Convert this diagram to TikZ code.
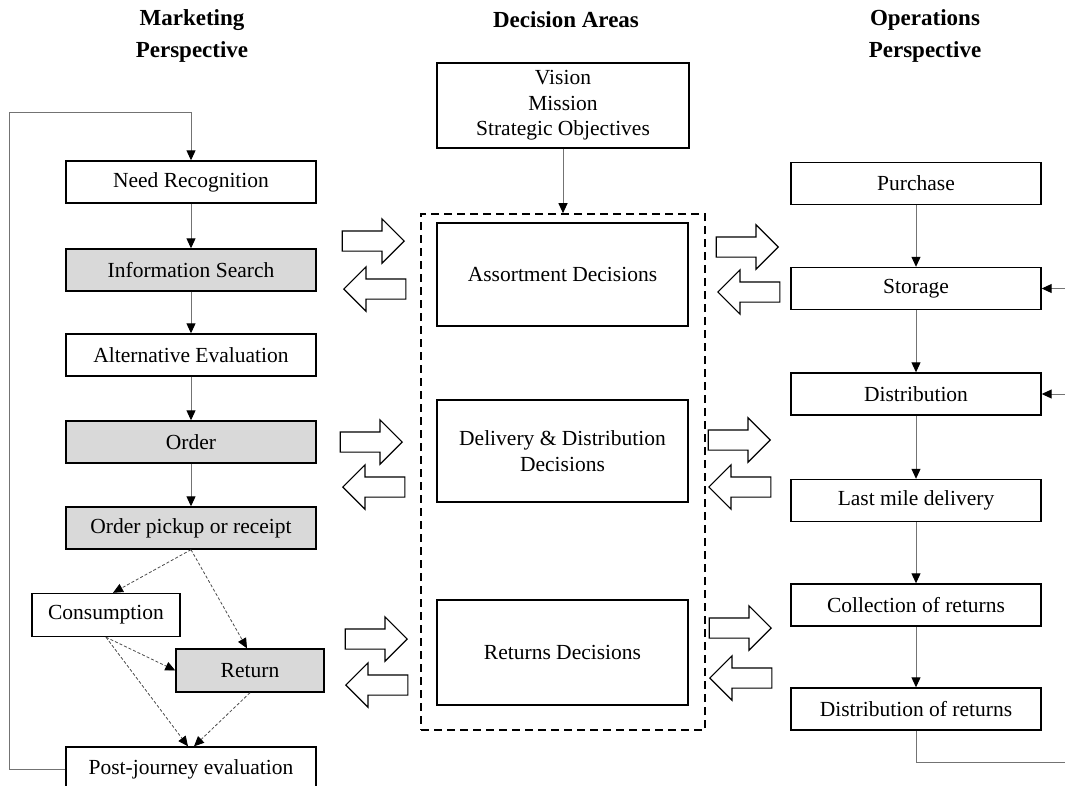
\documentclass[tikz,border=0pt]{standalone}
\usepackage{fontspec}
\setmainfont{Liberation Serif}
\usetikzlibrary{arrows.meta,shapes.arrows,calc}

\tikzset{
  box/.style={draw=black, line width=1.4pt, fill=white, inner sep=2pt,
    minimum width=250pt, minimum height=42pt,
    font=\fontsize{21.5}{25.5}\selectfont, align=center},
  shaded/.style={box, fill=black!15},
  smallbox/.style={box, minimum width=148pt, minimum height=43pt},
  decbox/.style={box, minimum width=251pt},
  areabox/.style={draw=black, line width=1.6pt, dash pattern=on 8pt off 5pt,
    minimum width=284pt, minimum height=516pt, inner sep=0pt},
  header/.style={font=\bfseries\fontsize{23}{32}\selectfont, align=center},
  tip/.style={-{Triangle[length=10pt,width=9pt,black]}},
  conn/.style={tip, draw=black!55, line width=1pt},
  line/.style={draw=black!55, line width=1pt},
  dconn/.style={-{Triangle[length=10pt,width=9pt,black]}, draw=black!70,
    line width=0.8pt, dash pattern=on 3pt off 2pt},
  barrow/.style={single arrow, draw=black, line width=1.2pt, fill=white,
    minimum height=62pt, inner xsep=0pt, inner ysep=9.5pt,
    single arrow head extend=12pt, anchor=tip},
  barrowl/.style={barrow, shape border rotate=180},
}

\begin{document}
\begin{tikzpicture}[x=1pt,y=-1pt]
\useasboundingbox (0,0) rectangle (1065,785);
\clip (0,0) rectangle (1065,785);

% column headings
\node[header] (hm) at (192,36) {Marketing\\Perspective};
\node[header] (hd) at (566,20) {Decision Areas};
\node[header] (ho) at (925,36) {Operations\\Perspective};

% marketing perspective: customer journey
\node[box]    (need)   at (191,182) {Need Recognition};
\node[shaded] (info)   at (191,270) {Information Search};
\node[box]    (alt)    at (191,355) {Alternative Evaluation};
\node[shaded] (order)  at (191,442) {Order};
\node[shaded] (pickup) at (191,528) {Order pickup or receipt};
\node[smallbox] (cons) at (106,615) {Consumption};
\node[smallbox, fill=black!15] (ret) at (250,670.5) {Return};
\node[box, minimum height=44pt] (post) at (191,769) {Post-journey evaluation};

\draw[conn] (need) -- (info);
\draw[conn] (info) -- (alt);
\draw[conn] (alt) -- (order);
\draw[conn] (order) -- (pickup);

\draw[dconn] (pickup.south) -- ([xshift=7pt]cons.north);
\draw[dconn] (pickup.south) -- ([xshift=-3pt]ret.north);
\draw[dconn] (cons.south) -- (ret.west);
\draw[dconn] (cons.south) -- ([xshift=-3pt]post.north);
\draw[dconn] (ret.south) -- ([xshift=3pt]post.north);

% feedback loop from evaluation back to need recognition
\coordinate (fbA) at (9,769);
\coordinate (fbB) at (9,112);
\coordinate (fbC) at (191,112);
\draw[conn] (post.west) -- (fbA) -- (fbB) -- (fbC) -- (need.north);

% decision areas
\node[box, minimum width=252pt, minimum height=85pt] (vision) at (563,105.5)
  {Vision\\Mission\\Strategic Objectives};
\node[areabox] (area) at (563,472) {};
\draw[conn] (vision) -- (area.north);

\node[decbox, minimum height=103pt] (assort) at (562.5,274.5) {Assortment Decisions};
\node[decbox, minimum height=102pt] (deliv)  at (562.5,451) {Delivery \& Distribution\\Decisions};
\node[decbox, minimum height=105pt] (retd)   at (562.5,652.5) {Returns Decisions};

% exchange arrows, marketing side
\node[barrow]  (a1r) at (405,241) {};
\node[barrowl] (a1l) at (343,289) {};
\node[barrow]  (a2r) at (403,442) {};
\node[barrowl] (a2l) at (342,487) {};
\node[barrow]  (a3r) at (408,639) {};
\node[barrowl] (a3l) at (345,685) {};

% exchange arrows, operations side
\node[barrow]  (b1r) at (779,247) {};
\node[barrowl] (b1l) at (717,292) {};
\node[barrow]  (b2r) at (771,440) {};
\node[barrowl] (b2l) at (708,487) {};
\node[barrow]  (b3r) at (772,628) {};
\node[barrowl] (b3l) at (709,678) {};

% operations perspective: flow of goods
\node[box] (purch) at (916,183.5) {Purchase};
\node[box] (stor)  at (916,288.5) {Storage};
\node[box] (dist)  at (916,394) {Distribution};
\node[box] (last)  at (916,500.5) {Last mile delivery};
\node[box] (coll)  at (916,605) {Collection of returns};
\node[box] (dret)  at (916,709) {Distribution of returns};

\draw[conn] (purch) -- (stor);
\draw[conn] (stor) -- (dist);
\draw[conn] (dist) -- (last);
\draw[conn] (last) -- (coll);
\draw[conn] (coll) -- (dret);

\coordinate (inS) at (1065,288.5);
\coordinate (inD) at (1065,394);
\coordinate (outR) at (1065,762);
\draw[conn] (inS) -- (stor.east);
\draw[conn] (inD) -- (dist.east);
\draw[line] (dret.south) |- (outR);
\end{tikzpicture}
\end{document}
